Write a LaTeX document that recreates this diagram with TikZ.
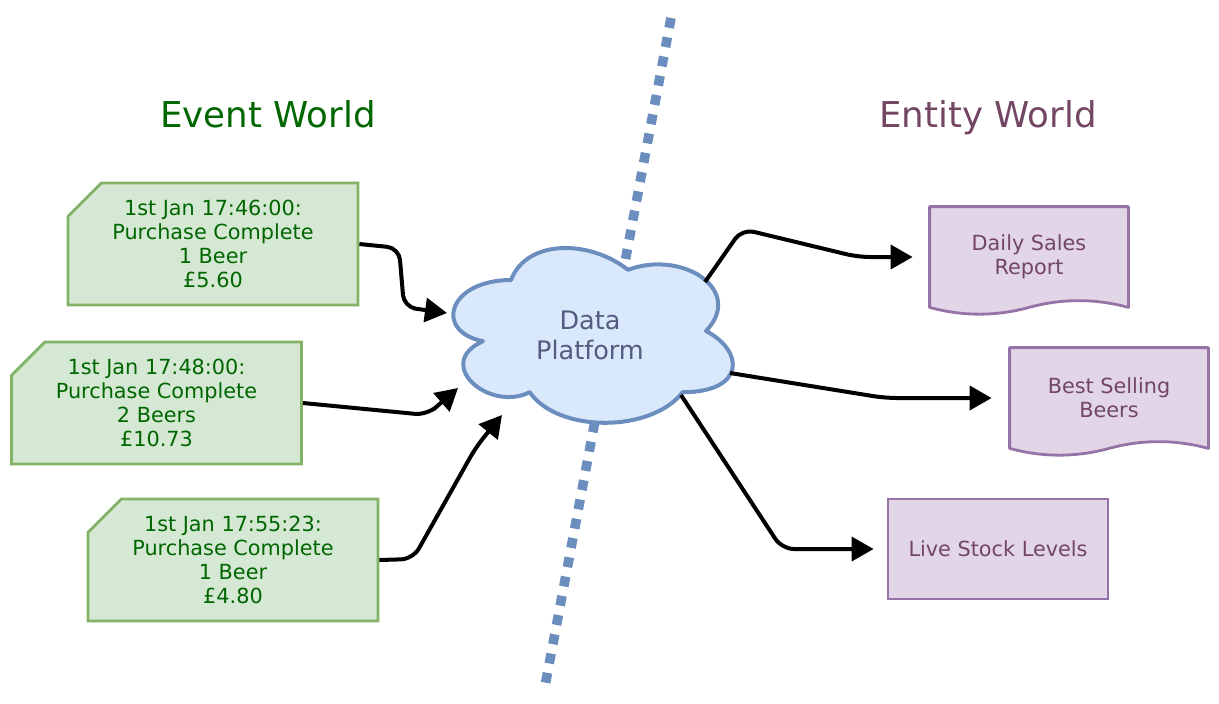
\documentclass[tikz,border=0pt]{standalone}
\usepackage{fontspec}
\setmainfont{DejaVu Sans}
\usepackage{xcolor}
\usepackage{tikz}
\usetikzlibrary{shapes.misc,arrows.meta,backgrounds}
\tikzset{>={Triangle[length=11pt,width=12pt]}}

\definecolor{greenfill}{HTML}{D5E8D4}
\definecolor{greenline}{HTML}{82B366}
\definecolor{greentext}{HTML}{006600}
\definecolor{purplefill}{HTML}{E1D5E7}
\definecolor{purpleline}{HTML}{9673A6}
\definecolor{purpletext}{HTML}{734664}
\definecolor{bluefill}{HTML}{DAE8FC}
\definecolor{blueline}{HTML}{6C8EBF}
\definecolor{bluetext}{HTML}{525C7F}
\newcommand{\boxfont}{\fontsize{10.4}{12}\selectfont}

\begin{document}
\begin{tikzpicture}[x=0.5pt, y=-0.5pt,
eventnote/.style={chamfered rectangle, chamfered rectangle corners=north west, chamfered rectangle xsep=13pt, align=center, draw=greenline, fill=greenfill, line width=1.4pt, text=greentext, font=\boxfont, minimum width=145pt, minimum height=61pt},
reportdoc/.style={align=center, text=purpletext, font=\boxfont, minimum width=99pt, minimum height=50pt},
docline/.style={draw=purpleline, fill=purplefill, line width=1.4pt, line join=round},
stockbox/.style={rectangle, align=center, draw=purpleline, fill=purplefill, line width=1.4pt, text=purpletext, font=\boxfont, minimum width=110pt, minimum height=50pt},
worldtitle/.style={anchor=base, font=\fontsize{17.8}{21}\selectfont},
flow/.style={->, line width=2pt},
]
\useasboundingbox (0,0) rectangle (1219,703);

%Divider and cloud
\draw[blueline, line width=4.8pt, dash pattern=on 5pt off 4.8pt] (671,18) -- (545,686);
\begin{scope}[shift={(433,229)}, x=156pt, y=-102pt]
\draw[draw=blueline, fill=bluefill, line width=2pt, line join=round] (0.25,0.25)
  .. controls (0.05,0.25) and (0,0.5) .. (0.16,0.55)
  .. controls (0,0.66) and (0.18,0.9) .. (0.31,0.8)
  .. controls (0.4,1) and (0.7,1) .. (0.8,0.8)
  .. controls (1,0.8) and (1,0.6) .. (0.875,0.5)
  .. controls (1,0.3) and (0.8,0.1) .. (0.625,0.2)
  .. controls (0.5,0.05) and (0.3,0.05) .. cycle;
\end{scope}

%Nodes
\node[worldtitle, text=greentext](Event World) at (268,127){Event World};
\node[worldtitle, text=purpletext](Entity World) at (988,127){Entity World};
\node[eventnote](Purchase 1) at (213,244){1st Jan 17:46:00:\\Purchase Complete\\1 Beer\\£5.60};
\node[eventnote](Purchase 2) at (156.5,403){1st Jan 17:48:00:\\Purchase Complete\\2 Beers\\£10.73};
\node[eventnote](Purchase 3) at (233,560){1st Jan 17:55:23:\\Purchase Complete\\1 Beer\\£4.80};
\node[align=center, text=bluetext, font=\fontsize{12.75}{15}\selectfont](Data Platform) at (590,335){Data\\Platform};
\node[reportdoc](Daily Sales) at (1029,257){Daily Sales\\Report};
\node[reportdoc](Best Selling) at (1109,398){Best Selling\\Beers};
\node[stockbox](Live Stock) at (998,549){Live Stock Levels};

\begin{scope}[on background layer]
\draw[docline] (Daily Sales.north west) -- (Daily Sales.north east) -- (Daily Sales.south east)
  .. controls +(-33,-9) and +(33,-9) .. (Daily Sales.south)
  .. controls +(-33,9) and +(33,9) .. (Daily Sales.south west) -- cycle;
\draw[docline] (Best Selling.north west) -- (Best Selling.north east) -- (Best Selling.south east)
  .. controls +(-33,-9) and +(33,-9) .. (Best Selling.south)
  .. controls +(-33,9) and +(33,9) .. (Best Selling.south west) -- cycle;
\end{scope}

%Cloud edge points
\coordinate (in1) at (447,313);
\coordinate (in2) at (458,388);
\coordinate (in3) at (502,415);
\coordinate (out1) at (705,282);
\coordinate (out2) at (730,373);
\coordinate (out3) at (681,395);

%Lines
\draw[flow] (Purchase 1.east) [rounded corners=6pt] -- (399,248) -- (404,307) -- (425,310) [sharp corners] -- (in1);
\draw[flow] (Purchase 2.east) [rounded corners=6pt] -- (427,415) -- (442.5,401.5) [sharp corners] -- (in2);
\draw[flow] (Purchase 3.east) [rounded corners=6pt] -- (413,559) -- (476,447) -- (489,431) [sharp corners] -- (in3);
\draw[flow, shorten >=8.5pt] (out1) [rounded corners=6pt] -- (742,229) -- (858,257) -- (885,257) [sharp corners] -- (Daily Sales.west);
\draw[flow, shorten >=9pt] (out2) [rounded corners=6pt] -- (885,398) -- (930,398) [sharp corners] -- (Best Selling.west);
\draw[flow, shorten >=6.5pt] (out3) [rounded corners=6pt] -- (782,549) -- (820,549) [sharp corners] -- (Live Stock.west);
\end{tikzpicture}
\end{document}
